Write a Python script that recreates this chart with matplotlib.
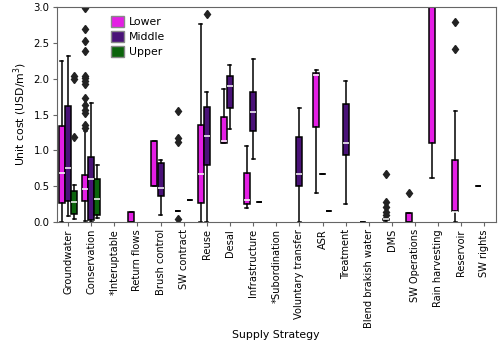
import numpy as np
import matplotlib
matplotlib.use("Agg")
import matplotlib.pyplot as plt
from matplotlib.patches import Patch

# ================= DATA =================
categories = ["Groundwater", "Conservation", "*Interuptable", "Return flows",
              "Brush control", "SW contract", "Reuse", "Desal", "Infrastructure",
              "*Subordination", "Voluntary transfer", "ASR", "Treatment",
              "Blend brakish water", "DMS", "SW Operations", "Rain harvesting",
              "Reservoir", "SW rights"]
hues = ["Lower", "Middle", "Upper"]
nan = np.nan

# box stats per hue, one entry per category (nan = no data)
lower_whislo = [0.00, 0.02, nan, 0.00, 0.51, 0.15, 0.00, 1.10, 0.20, nan, nan, 0.41, nan, 0.00, 0.02, 0.00, 0.61, 0.00, 0.51]
lower_q1     = [0.27, 0.30, nan, 0.00, 0.51, 0.15, 0.27, 1.10, 0.25, nan, nan, 1.32, nan, 0.00, 0.03, 0.00, 1.11, 0.16, 0.51]
lower_med    = [0.68, 0.46, nan, 0.00, 0.51, 0.15, 0.67, 1.13, 0.31, nan, nan, 2.05, nan, 0.00, 0.04, 0.00, 3.20, 0.14, 0.51]
lower_q3     = [1.34, 0.66, nan, 0.14, 1.13, 0.15, 1.36, 1.47, 0.69, nan, nan, 2.08, nan, 0.00, 0.05, 0.13, 3.60, 0.86, 0.51]
lower_whishi = [2.24, 1.27, nan, 0.14, 1.13, 0.15, 2.76, 1.86, 1.06, nan, nan, 2.12, nan, 0.00, 0.06, 0.13, 4.20, 1.55, 0.51]
lower_fliers = {1: [1.31, 1.35, 1.52, 1.57, 1.63, 1.73, 1.93, 1.97, 2.01, 2.04, 2.39, 2.53, 2.69, 2.98],
                5: [0.05, 1.12, 1.17, 1.55],
                14: [0.10, 0.14, 0.21, 0.28, 0.67],
                15: [0.41],
                17: [2.41, 2.79]}

middle_whislo = [0.08, 0.00, nan, nan, 0.10, nan, 0.00, 1.30, 0.88, nan, 0.00, 0.67, 0.25, nan, nan, nan, nan, nan, nan]
middle_q1     = [0.29, 0.03, nan, nan, 0.37, nan, 0.80, 1.59, 1.27, nan, 0.50, 0.67, 0.93, nan, nan, nan, nan, nan, nan]
middle_med    = [0.76, 0.60, nan, nan, 0.47, nan, 1.20, 1.90, 1.54, nan, 0.67, 0.67, 1.11, nan, nan, nan, nan, nan, nan]
middle_q3     = [1.62, 0.91, nan, nan, 0.82, nan, 1.60, 2.04, 1.82, nan, 1.19, 0.67, 1.64, nan, nan, nan, nan, nan, nan]
middle_whishi = [2.31, 1.66, nan, nan, 0.87, nan, 1.82, 2.19, 2.27, nan, 1.59, 0.67, 1.97, nan, nan, nan, nan, nan, nan]
middle_fliers = {6: [2.90]}

upper_whislo = [0.04, 0.06, nan, nan, nan, 0.31, nan, nan, 0.28, nan, nan, 0.15, nan, nan, nan, nan, nan, nan, nan]
upper_q1     = [0.12, 0.10, nan, nan, nan, 0.31, nan, nan, 0.28, nan, nan, 0.15, nan, nan, nan, nan, nan, nan, nan]
upper_med    = [0.28, 0.32, nan, nan, nan, 0.31, nan, nan, 0.28, nan, nan, 0.15, nan, nan, nan, nan, nan, nan, nan]
upper_q3     = [0.44, 0.60, nan, nan, nan, 0.31, nan, nan, 0.28, nan, nan, 0.15, nan, nan, nan, nan, nan, nan, nan]
upper_whishi = [0.52, 0.79, nan, nan, nan, 0.31, nan, nan, 0.28, nan, nan, 0.15, nan, nan, nan, nan, nan, nan, nan]
upper_fliers = {0: [1.18, 2.00, 2.04]}

colors = ["#e41ee4", "#4a1278", "#0c640c"]

# ================= PLOT =================
plt.rcParams['font.family'] = ['DejaVu Sans']
fig = plt.figure(figsize=(5, 3.46), dpi=100)
ax = fig.add_axes([0.113, 0.358, 0.879, 0.622])

groups = [
    (lower_whislo, lower_q1, lower_med, lower_q3, lower_whishi, lower_fliers),
    (middle_whislo, middle_q1, middle_med, middle_q3, middle_whishi, middle_fliers),
    (upper_whislo, upper_q1, upper_med, upper_q3, upper_whishi, upper_fliers),
]
each = 0.8 / len(hues)
offsets = np.linspace(0, 0.8 - each, len(hues)) - (0.8 - each) / 2

for h, (wlo, q1, med, q3, whi, fl) in enumerate(groups):
    stats, pos = [], []
    for i in range(len(categories)):
        if np.isnan(med[i]):
            continue
        stats.append(dict(whislo=wlo[i], q1=q1[i], med=med[i], q3=q3[i],
                          whishi=whi[i], fliers=fl.get(i, [])))
        pos.append(i + offsets[h])
    art = ax.bxp(stats, positions=pos, widths=each * 0.98, patch_artist=True,
                 boxprops=dict(facecolor=colors[h], edgecolor='black', linewidth=1.1),
                 whiskerprops=dict(color='black', linewidth=1.1),
                 capprops=dict(color='black', linewidth=1.1),
                 medianprops=dict(color='white', linewidth=1.1),
                 flierprops=dict(marker='d', markerfacecolor='#222222',
                                 markeredgecolor='#222222', markersize=4.5))
    # hide median when it sits on a box edge (flat or tiny groups)
    for s, m in zip(stats, art['medians']):
        if s['med'] == s['q1'] or s['med'] == s['q3']:
            m.set_visible(False)

ax.set_xlim(-0.5, len(categories) - 0.5)
ax.set_ylim(0, 3.0)
ax.set_xticks(range(len(categories)))
ax.set_xticklabels(categories, rotation=90, fontsize=7.1)
ax.set_yticks(np.arange(0, 3.01, 0.5))
ax.set_yticklabels([f"{v:.1f}" for v in np.arange(0, 3.01, 0.5)], fontsize=7.3)
ax.tick_params(axis='both', length=3, pad=2, color='#666666')
ax.set_xlabel("Supply Strategy", fontsize=7.8, labelpad=1)
ax.set_ylabel("Unit cost (USD/m$^3$)", fontsize=7.8, labelpad=3)
for sp in ax.spines.values():
    sp.set_color('#666666')

handles = [Patch(facecolor=c, edgecolor='#888888', label=l) for c, l in zip(colors, hues)]
ax.legend(handles=handles, loc='upper left', bbox_to_anchor=(0.11, 0.99),
          frameon=False, fontsize=7.8, handlelength=1.2, handleheight=1.2,
          labelspacing=0.35, handletextpad=0.4, borderaxespad=0.2)

fig.savefig("out.png", dpi=100)
